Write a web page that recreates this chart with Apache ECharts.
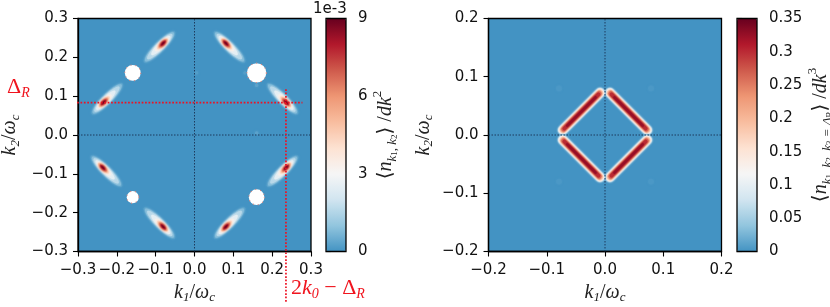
<!DOCTYPE html>
<html>
<head>
<meta charset="utf-8">
<style>html,body{margin:0;padding:0;background:#fff}#c{width:830px;height:307px}#c canvas{filter:blur(0.35px)}</style>
<script src="https://cdn.jsdelivr.net/npm/echarts@6/dist/echarts.min.js"></script>
</head>
<body>
<div id="c"></div>
<script>
// Colour scale samples (evenly spaced over each colour bar)
const colorStops = ['#4393c3','#92c5de','#d1e5f0','#f6f6f6','#fde2d2','#f8bd9f','#ee9673','#cf5a4c','#b2182b','#67001f'];

// Tick values
const leftTicksRange = [-0.3, 0.3];
const rightTicksRange = [-0.2, 0.2];
const leftBarRange = [0, 9];
const rightBarRange = [0, 0.35];

// Left panel: peak positions of the eight streaks
const blobK1 = [-0.081, 0.081, -0.234, 0.236, -0.236, 0.236, -0.081, 0.081];
const blobK2 = [0.236, 0.236, 0.084, 0.084, -0.084, -0.084, -0.236, -0.236];
// Left panel: contour levels (1e-3 units)
const levelValue  = [0.25, 0.8, 1.6, 2.5, 3.3, 4.2, 5.0, 5.8, 6.6, 7.4, 8.2, 8.8];
const levelAlong  = [0.056, 0.052, 0.045, 0.034, 0.024, 0.019, 0.016, 0.0135, 0.0115, 0.0095, 0.0075, 0.0045];
const levelAcross = [0.0130, 0.0115, 0.0098, 0.0080, 0.0066, 0.0058, 0.0052, 0.0046, 0.0040, 0.0035, 0.0027, 0.0016];
const levelShift  = [0.013, 0.013, 0.012, 0.008, 0.004, 0.002, 0.001, 0.001, 0.001, 0, 0, 0];

// Left panel: excluded discs
const holeK1 = [-0.159, 0.160, -0.159, 0.160];
const holeK2 = [0.160, 0.160, -0.160, -0.160];
const holeR  = [0.0205, 0.025, 0.0155, 0.020];

// Left panel: faint specks
const speckK1 = [0.005, 0.160, 0.160, 0.130];
const speckK2 = [0.160, 0.128, 0.005, 0.160];
const speckV  = [0.2, 0.3, 0.3, 0.2];

// Left panel: red guide lines
const deltaR = 0.0835;
const twoK0MinusDelta = 0.2355;
const guideHK1 = [-0.495, 0.278];
const guideVK2 = [0.118, -0.432];

// Right panel: four ridges, start and end on the ridge
const ridgeSignK1 = [1, -1, 1, -1];
const ridgeSignK2 = [1, 1, -1, -1];
const ridgeValue  = [0.008, 0.03, 0.06, 0.09, 0.117, 0.145, 0.18, 0.22, 0.26, 0.30, 0.325];
const ridgeHalf   = [0.0092, 0.0085, 0.0078, 0.0070, 0.0063, 0.0057, 0.0051, 0.0045, 0.0038, 0.0029, 0.0018];
const ridgeInner  = [0.0085, 0.0085, 0.0085, 0.0085, 0.0085, 0.0087, 0.009, 0.0095, 0.010, 0.011, 0.016];
const ridgeSum    = 0.081;

// Right panel: faint specks
const rSpeckK1 = [-0.079, 0.079, -0.079, 0.079];
const rSpeckK2 = [0.08, 0.08, -0.08, -0.08];
const rSpeckV  = [0.004, 0.004, 0.004, 0.004];

// Build table rows
const blobRows = [];
blobK1.forEach((k1, b) => {
  const k2 = blobK2[b];
  const d1 = Math.sign(Math.sign(k1) * 0.16 - k1);
  const d2 = Math.sign(Math.sign(k2) * 0.16 - k2);
  levelValue.forEach((v, l) => {
    const s = levelShift[l] * Math.SQRT1_2;
    blobRows.push([k1 + d1 * s, k2 + d2 * s, v, levelAlong[l], levelAcross[l], d1, d2]);
  });
});
const speckRows = speckK1.map((k, i) => [k, speckK2[i], speckV[i], 0.0045, 0.0045, 1, 1]);
const holeRows = holeK1.map((k, i) => [k, holeK2[i], holeR[i]]);
const ridgeRows = [];
ridgeSignK1.forEach((s1, r) => {
  const s2 = ridgeSignK2[r];
  ridgeValue.forEach((v, l) => {
    const a = ridgeInner[l], b = ridgeSum - ridgeInner[l];
    ridgeRows.push([s1 * a, s2 * b, s1 * b, s2 * a, v, ridgeHalf[l]]);
  });
});
const rSpeckRows = rSpeckK1.map((k, i) => [k, rSpeckK2[i], 0.005, 0, rSpeckV[i]]);

const renderEllipse = (params, api) => {
  const c1 = api.value(0), c2 = api.value(1), a = api.value(3), b = api.value(4);
  const ux = api.value(5) * Math.SQRT1_2, uy = api.value(6) * Math.SQRT1_2;
  const vx = -uy, vy = ux, pts = [];
  for (let i = 0; i < 48; i++) {
    const t = i / 48 * 2 * Math.PI, p = a * Math.cos(t), q = b * Math.sin(t);
    pts.push(api.coord([c1 + p * ux + q * vx, c2 + p * uy + q * vy]));
  }
  const color = api.visual('color');
  return { type: 'polygon', shape: { points: pts }, style: { fill: color, shadowBlur: 2.5, shadowColor: color } };
};
const renderHole = (params, api) => {
  const c = api.coord([api.value(0), api.value(1)]);
  const r = api.size([api.value(2), 0])[0];
  return { type: 'circle', shape: { cx: c[0], cy: c[1], r: r },
    style: { fill: '#ffffff', stroke: '#d9847c', lineWidth: 1.1, lineDash: [1, 4] } };
};
const renderRidge = (params, api) => {
  const p = api.coord([api.value(0), api.value(1)]);
  const q = api.coord([api.value(2), api.value(3)]);
  const w = 2 * api.size([api.value(5), 0])[0];
  const color = api.visual('color');
  return { type: 'line', shape: { x1: p[0], y1: p[1], x2: q[0], y2: q[1] },
    style: { stroke: color, lineWidth: w, lineCap: 'round', shadowBlur: 2, shadowColor: color } };
};
const renderSpeck = (p, api) => {
  const c = api.coord([api.value(0), api.value(1)]);
  const color = api.visual('color');
  const r = api.size([api.value(2), 0])[0];
  return { type: 'circle', shape: { cx: c[0], cy: c[1], r: r }, style: { fill: color, shadowBlur: 2, shadowColor: color } };
};

const tickFont = { fontFamily: 'DejaVu Sans', fontSize: 15, color: '#111' };
const serif = 'Liberation Serif';
const richBase = {
  i: { fontFamily: serif, fontStyle: 'italic', fontSize: 20, color: '#222', lineHeight: 24 },
  n: { fontFamily: serif, fontSize: 20, color: '#222', lineHeight: 24 },
  s: { fontFamily: serif, fontStyle: 'italic', fontSize: 13, color: '#222', lineHeight: 20, verticalAlign: 'bottom' },
  t: { fontFamily: serif, fontSize: 9, color: '#222', lineHeight: 17, verticalAlign: 'bottom' },
  u: { fontFamily: serif, fontSize: 13, color: '#222', lineHeight: 28, verticalAlign: 'top' },
  b: { fontFamily: 'DejaVu Sans', fontSize: 20, color: '#222', lineHeight: 24 }
};
const red = '#f0141e';
const richRed = {
  i: { fontFamily: serif, fontStyle: 'italic', fontSize: 22, fill: red, lineHeight: 26 },
  n: { fontFamily: serif, fontSize: 22, fill: red, lineHeight: 26 },
  s: { fontFamily: serif, fontStyle: 'italic', fontSize: 14, fill: red, lineHeight: 20, verticalAlign: 'bottom' }
};

const fmt = v => (v < -1e-9 ? '\u2212' : '') + Math.abs(v).toFixed(1);
const mainX = (idx, range, name) => ({
  type: 'value', gridIndex: idx, min: range[0], max: range[1], interval: 0.1,
  axisLine: { show: true, onZero: false, lineStyle: { color: '#000', width: 1.3 } },
  axisTick: { show: true, length: 5, lineStyle: { color: '#000', width: 1.1 } },
  axisLabel: Object.assign({ margin: 11, formatter: v => fmt(v), hideOverlap: false }, tickFont),
  splitLine: { show: false },
  name: name, nameLocation: 'middle', nameGap: 25.5,
  nameTextStyle: { rich: richBase }
});
const mainY = (idx, range, name, gap) => ({
  type: 'value', gridIndex: idx, min: range[0], max: range[1], interval: 0.1,
  axisLine: { show: true, onZero: false, lineStyle: { color: '#000', width: 1.3 } },
  axisTick: { show: true, length: 5, lineStyle: { color: '#000', width: 1.1 } },
  axisLabel: Object.assign({ margin: 10, formatter: v => fmt(v), hideOverlap: false }, tickFont),
  splitLine: { show: false },
  name: name, nameLocation: 'middle', nameGap: gap, nameRotate: 90,
  nameTextStyle: { rich: richBase }
});
const barY = (idx, range, step, name, gap, digitsFmt) => ({
  type: 'value', gridIndex: idx, position: 'right', min: range[0], max: range[1], interval: step,
  axisLine: { show: false },
  axisTick: { show: true, length: 5, lineStyle: { color: '#000', width: 1.1 } },
  axisLabel: Object.assign({ margin: 12, formatter: digitsFmt, hideOverlap: false }, tickFont),
  splitLine: { show: false },
  name: name, nameLocation: 'middle', nameGap: gap, nameRotate: 90,
  nameTextStyle: { rich: richBase }
});
const hiddenX = idx => ({ type: 'value', gridIndex: idx, min: 0, max: 1, show: false });

const zeroLine = (xi, range) => [
  { type: 'line', xAxisIndex: xi, yAxisIndex: xi, data: [[0, range[0]], [0, range[1]]], symbol: 'none', silent: true, z: 5,
    lineStyle: { color: '#1d3a5c', width: 1, type: [1.5, 1.5] } },
  { type: 'line', xAxisIndex: xi, yAxisIndex: xi, data: [[range[0], 0], [range[1], 0]], symbol: 'none', silent: true, z: 5,
    lineStyle: { color: '#1d3a5c', width: 1, type: [1.5, 1.5] } }
];

const gridBase = { show: true, outerBoundsMode: 'none', containLabel: false, borderColor: '#000', borderWidth: 1.3, top: 18.5, height: 233 };
const option = {
  animation: false,
  backgroundColor: '#fff',
  grid: [
    Object.assign({}, gridBase, { left: 78, width: 233, backgroundColor: colorStops[0] }),
    Object.assign({}, gridBase, { left: 326, width: 20, backgroundColor: 'transparent', z: 6 }),
    Object.assign({}, gridBase, { left: 488.5, width: 233, backgroundColor: colorStops[0] }),
    Object.assign({}, gridBase, { left: 737, width: 20, backgroundColor: 'transparent', z: 6 })
  ],
  xAxis: [
    mainX(0, leftTicksRange, '{i|k}{s|1}{n|/}{i|\u03C9}{s|c}'),
    hiddenX(1),
    mainX(2, rightTicksRange, '{i|k}{s|1}{n|/}{i|\u03C9}{s|c}'),
    hiddenX(3)
  ],
  yAxis: [
    mainY(0, leftTicksRange, '{i|k}{s|2}{n|/}{i|\u03C9}{s|c}', 56),
    barY(1, leftBarRange, 3, '{b|\u27E8}{i|n}{s|k}{t|1}{s|, k}{t|2}{b|\u27E9}{n| /}{i|dk}{u|2}', 23, v => String(v)),
    mainY(2, rightTicksRange, '{i|k}{s|2}{n|/}{i|\u03C9}{s|c}', 53),
    barY(3, rightBarRange, 0.05, '{b|\u27E8}{i|n}{s|k}{t|1}{s|, k}{t|2}{s|, k}{t|3}{s| = \u0394}{t|R}{b|\u27E9}{n| /}{i|dk}{u|3}', 45, v => (v === 0 ? '0' : String(+v.toFixed(2))))
  ],
  visualMap: [
    { type: 'continuous', show: true, seriesIndex: [0], dimension: 2, min: 0, max: 9, inRange: { color: colorStops },
      left: 326, top: 18.5, itemWidth: 20, itemHeight: 233, padding: 0, text: null, showLabel: false, calculable: false, realtime: false, hoverLink: false },
    { type: 'continuous', show: true, seriesIndex: [1, 2], dimension: 4, min: 0, max: 0.35, inRange: { color: colorStops },
      left: 737, top: 18.5, itemWidth: 20, itemHeight: 233, padding: 0, text: null, showLabel: false, calculable: false, realtime: false, hoverLink: false }
  ],
  series: [
    { type: 'custom', xAxisIndex: 0, yAxisIndex: 0, data: speckRows.concat(blobRows), renderItem: renderEllipse, silent: true, z: 2, encode: { x: 0, y: 1 }, clip: true },
    { type: 'custom', xAxisIndex: 2, yAxisIndex: 2, data: rSpeckRows, renderItem: renderSpeck, silent: true, z: 2, encode: { x: 0, y: 1 } },
    { type: 'custom', xAxisIndex: 2, yAxisIndex: 2, data: ridgeRows, renderItem: renderRidge, silent: true, z: 2, encode: { x: 0, y: 1 }, clip: true },
    { type: 'custom', xAxisIndex: 0, yAxisIndex: 0, data: holeRows, renderItem: renderHole, silent: true, z: 3, encode: { x: 0, y: 1 } },
    ...zeroLine(0, leftTicksRange),
    ...zeroLine(2, rightTicksRange),
    { type: 'line', xAxisIndex: 0, yAxisIndex: 0, clip: false, symbol: 'none', silent: true, z: 7,
      data: [[guideHK1[0], deltaR], [guideHK1[1], deltaR]], lineStyle: { color: '#ee1122', width: 1.7, type: [1.7, 1.7] } },
    { type: 'line', xAxisIndex: 0, yAxisIndex: 0, clip: false, symbol: 'none', silent: true, z: 7,
      data: [[twoK0MinusDelta, guideVK2[0]], [twoK0MinusDelta, guideVK2[1]]], lineStyle: { color: '#ee1122', width: 1.7, type: [1.7, 1.7] } }
  ],
  graphic: [
    { type: 'text', left: 313, top: 2, style: { text: '1e-3', font: '15px "DejaVu Sans"', fill: '#111' } },
    { type: 'text', left: 7, top: 76, style: { text: '{n|\u0394}{s|R}', rich: richRed } },
    { type: 'text', left: 291, top: 277, style: { text: '{n|2}{i|k}{s|0}{n| \u2212 \u0394}{s|R}', rich: richRed } }
  ]
};
echarts.init(document.getElementById('c'), null, { renderer: 'canvas' }).setOption(option);
</script>
</body>
</html>
